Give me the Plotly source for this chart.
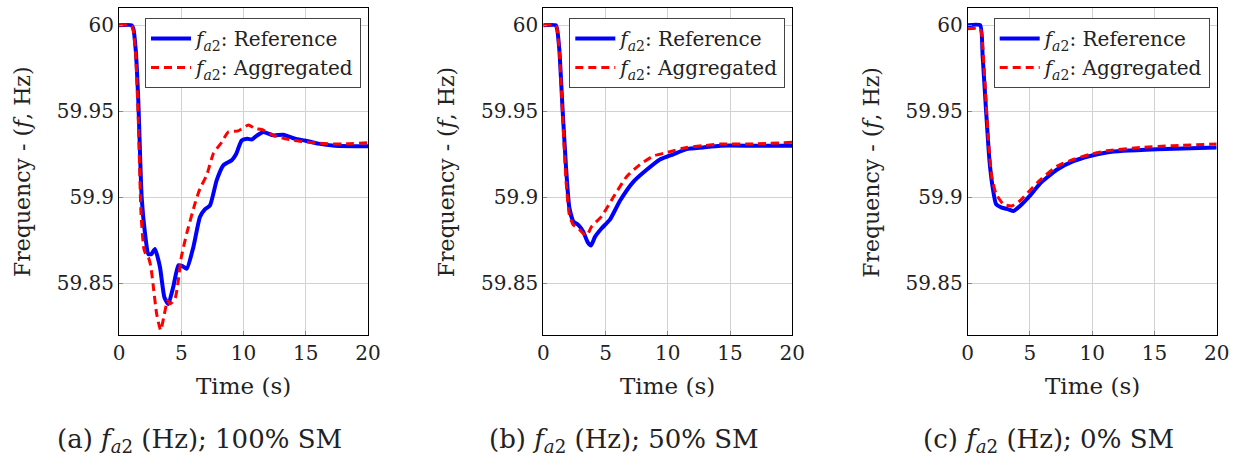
import plotly.graph_objects as go

# (a) 100% SM
t_ref_a = [0, 1.0, 1.15, 1.35, 1.55, 1.82, 2.09, 2.36, 2.6, 2.89, 3.29, 3.64, 3.96, 4.36, 4.77, 5.1,
           5.44, 5.97, 6.5, 6.9, 7.31, 7.85, 8.38, 9.05, 9.4, 9.85, 10.3, 10.66, 11.1, 11.6, 12.4,
           13.2, 14.14, 14.94, 16.0, 17.35, 20]
f_ref_a = [60, 60, 59.998, 59.985, 59.956, 59.900, 59.879, 59.867, 59.867, 59.870, 59.8595, 59.842,
           59.838, 59.848, 59.8605, 59.860, 59.8585, 59.871, 59.8886, 59.893, 59.8953, 59.910,
           59.9186, 59.9215, 59.925, 59.933, 59.934, 59.9336, 59.936, 59.938, 59.936, 59.9364,
           59.934, 59.933, 59.9312, 59.930, 59.9297]
t_agg_a = [0, 1.0, 1.15, 1.35, 1.55, 1.77, 2.0, 2.2, 2.36, 2.55, 2.76, 3.03, 3.35, 3.64, 3.9, 4.1,
           4.5, 4.75, 5.0, 5.44, 6.1, 6.5, 7.04, 7.58, 8.25, 8.78, 9.58, 10.39, 10.9, 11.46, 12.4,
           13.33, 14.4, 16.5, 18, 20]
f_agg_a = [60, 60, 59.997, 59.982, 59.945, 59.890, 59.870, 59.866, 59.865, 59.860, 59.848, 59.832,
           59.8227, 59.832, 59.840, 59.838, 59.841, 59.851, 59.865, 59.879, 59.8963, 59.905,
           59.9128, 59.9254, 59.932, 59.938, 59.9386, 59.942, 59.940, 59.9394, 59.936, 59.934,
           59.9327, 59.9312, 59.931, 59.9318]

# (b) 50% SM
t_ref_b = [0, 1.0, 1.1, 1.29, 1.55, 1.82, 2.09, 2.41, 2.81, 3.21, 3.56, 3.83, 4.15, 4.69, 5.35,
           6.16, 7.23, 8.3, 9.37, 10.44, 11.5, 12.85, 14.2, 16.9, 20]
f_ref_b = [60, 60, 59.998, 59.9855, 59.951, 59.918, 59.894, 59.886, 59.884, 59.880, 59.874, 59.872,
           59.877, 59.882, 59.887, 59.898, 59.909, 59.916, 59.922, 59.925, 59.928, 59.929, 59.930,
           59.930, 59.930]
t_agg_b = [0, 1.0, 1.1, 1.29, 1.55, 1.82, 2.09, 2.4, 2.8, 3.2, 3.5, 3.88, 4.69, 5.62, 6.69, 7.76,
           8.84, 9.9, 11.5, 12.85, 14.2, 16.9, 20]
f_agg_b = [60, 60, 59.998, 59.985, 59.948, 59.910, 59.890, 59.884, 59.882, 59.879, 59.878, 59.883,
           59.889, 59.900, 59.912, 59.919, 59.924, 59.926, 59.929, 59.930, 59.931, 59.931, 59.932]

# (c) 0% SM
t_ref_c = [0, 1.0, 1.2, 1.47, 1.74, 2.0, 2.28, 2.73, 3.27, 3.67, 4.2, 5.0, 5.81, 7.15, 8.49, 9.83,
           11.16, 12.5, 15.2, 20]
f_ref_c = [60, 60, 59.982, 59.951, 59.922, 59.906, 59.896, 59.894, 59.893, 59.892, 59.895, 59.901,
           59.908, 59.916, 59.921, 59.924, 59.926, 59.927, 59.928, 59.929]
t_agg_c = [0, 1.0, 1.12, 1.39, 1.66, 1.93, 2.28, 2.86, 3.53, 4.2, 5.0, 5.81, 7.15, 8.49, 9.83,
           11.16, 13.9, 16.5, 20]
f_agg_c = [59.998, 59.998, 59.995, 59.966, 59.933, 59.912, 59.902, 59.896, 59.895, 59.898, 59.904,
           59.910, 59.918, 59.922, 59.925, 59.927, 59.929, 59.930, 59.931]

captions = ["(a) <i>f</i><sub><i>a</i>2</sub> (Hz); 100% SM",
            "(b) <i>f</i><sub><i>a</i>2</sub> (Hz); 50% SM",
            "(c) <i>f</i><sub><i>a</i>2</sub> (Hz); 0% SM"]
x_ticks = [0, 5, 10, 15, 20]
y_ticks = [59.85, 59.9, 59.95, 60]
y_tick_text = ["59.85", "59.9", "59.95", "60"]

FONT = "DejaVu Serif, serif"
W, H = 1239, 468
ref_name = "<i>f</i><sub><i>a</i>2</sub>: Reference"
agg_name = "<i>f</i><sub><i>a</i>2</sub>: Aggregated"

panels = [
    (t_ref_a, f_ref_a, t_agg_a, f_agg_a, 119, 368),
    (t_ref_b, f_ref_b, t_agg_b, f_agg_b, 543.3, 792.3),
    (t_ref_c, f_ref_c, t_agg_c, f_agg_c, 967.7, 1216.7),
]
top_px, bot_px = 8, 335

fig = go.Figure()
layout = dict(
    width=W, height=H,
    margin=dict(l=0, r=0, t=0, b=0, autoexpand=False),
    paper_bgcolor="white", plot_bgcolor="white",
    font=dict(family=FONT, size=20, color="#222"),
    annotations=[],
)

for i, (tr, fr, ta, fa, x0, x1) in enumerate(panels):
    n = "" if i == 0 else str(i + 1)
    leg = "legend" + n
    fig.add_trace(go.Scatter(x=tr, y=fr, mode="lines", name=ref_name,
                             line=dict(color="#0000ff", width=4, shape="spline", smoothing=0.5),
                             xaxis="x" + n, yaxis="y" + n, legend=leg))
    fig.add_trace(go.Scatter(x=ta, y=fa, mode="lines", name=agg_name,
                             line=dict(color="#ff0000", width=3, dash="8px,5px", shape="spline", smoothing=0.5),
                             xaxis="x" + n, yaxis="y" + n, legend=leg))
    axis_style = dict(showline=True, linecolor="black", linewidth=1, mirror=True,
                      ticks="inside", ticklen=4, tickcolor="#888", automargin=False,
                      showgrid=True, gridcolor="#d2d2d2", gridwidth=1, zeroline=False,
                      tickfont=dict(family=FONT, size=20, color="#222"))
    layout["xaxis" + n] = dict(domain=[x0 / W, x1 / W], range=[0, 20], anchor="y" + n,
                               tickvals=x_ticks, **axis_style)
    layout["yaxis" + n] = dict(domain=[1 - bot_px / H, 1 - top_px / H], range=[59.82, 60.01],
                               anchor="x" + n, tickvals=y_ticks, ticktext=y_tick_text, **axis_style)
    layout[leg] = dict(x=(x1 - 7) / W, y=1 - 18 / H, xanchor="right", yanchor="top",
                       bgcolor="white", bordercolor="#444", borderwidth=1, itemwidth=40,
                       font=dict(family=FONT, size=20, color="#222"), tracegroupgap=0)
    cx = (x0 + x1) / 2
    layout["annotations"] += [
        dict(text="Time (s)", x=cx / W, y=1 - 386 / H, xref="paper", yref="paper",
             xanchor="center", yanchor="middle", showarrow=False, font=dict(family=FONT, size=23)),
        dict(text="Frequency - (<i>f</i>, Hz)", x=(x0 - 97) / W, y=1 - 172 / H, xref="paper",
             yref="paper", xanchor="center", yanchor="middle", showarrow=False, textangle=-90,
             font=dict(family=FONT, size=22)),
        dict(text=captions[i], x=(cx - 44) / W, y=1 - 440 / H, xref="paper", yref="paper",
             xanchor="center", yanchor="middle", showarrow=False, font=dict(family=FONT, size=26)),
    ]

fig.update_layout(**layout)
fig.write_html("out.html", config={"displayModeBar": False},
               post_script="document.body.style.margin='0';")
